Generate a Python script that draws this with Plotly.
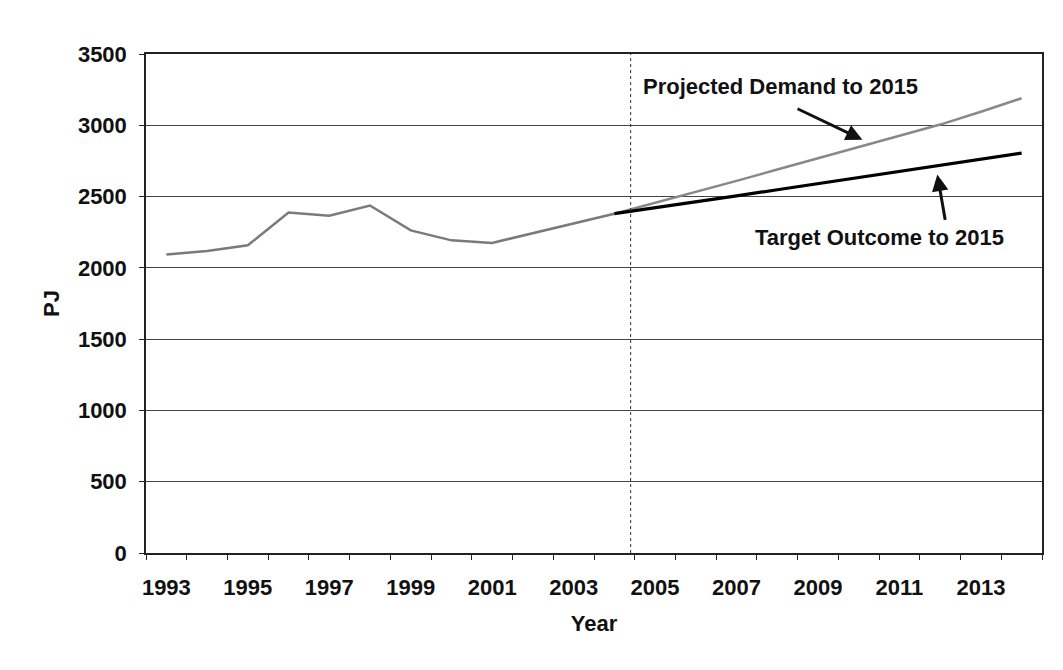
import plotly.graph_objects as go

# ---- data ----
years_hist = [1993, 1994, 1995, 1996, 1997, 1998, 1999, 2000, 2001, 2002, 2003, 2004]
demand_hist = [2093, 2118, 2158, 2388, 2365, 2437, 2263, 2193, 2175, 2244, 2314, 2380]

years_proj = [2004, 2005, 2006, 2007, 2008, 2009, 2010, 2011, 2012, 2013, 2014]
demand_proj = [2380, 2455, 2530, 2610, 2690, 2770, 2850, 2925, 3005, 3095, 3190]
target_proj = [2380, 2420, 2462, 2505, 2548, 2590, 2635, 2678, 2720, 2762, 2805]

xtick_vals = [1993, 1995, 1997, 1999, 2001, 2003, 2005, 2007, 2009, 2011, 2013]
xtick_text = [str(v) for v in xtick_vals]
ytick_vals = [0, 500, 1000, 1500, 2000, 2500, 3000, 3500]
divider_year = 2004.4

FONT = "Liberation Sans, Arial, sans-serif"

fig = go.Figure()
fig.add_trace(go.Scatter(x=years_hist, y=demand_hist, mode="lines",
                         line=dict(color="#7a7a7a", width=2.5), showlegend=False))
fig.add_trace(go.Scatter(x=years_proj, y=demand_proj, mode="lines",
                         line=dict(color="#888888", width=2.5), showlegend=False))
fig.add_trace(go.Scatter(x=years_proj, y=target_proj, mode="lines",
                         line=dict(color="#000000", width=3.2), showlegend=False))

fig.add_shape(type="line", xref="x", yref="paper", x0=divider_year, x1=divider_year,
              y0=0, y1=1, line=dict(color="#333333", width=1, dash="dot"))

fig.add_annotation(x=2008.07, y=3273, xref="x", yref="y", text="<b>Projected Demand to 2015</b>",
                   showarrow=False, font=dict(family=FONT, size=22, color="#111111"))
fig.add_annotation(x=2010.09, y=2899, ax=2008.46, ay=3121, xref="x", yref="y",
                   axref="x", ayref="y", text="", showarrow=True,
                   arrowhead=2, arrowsize=1.1, arrowwidth=3, arrowcolor="#111111")
fig.add_annotation(x=2010.5, y=2210, xref="x", yref="y", text="<b>Target Outcome to 2015</b>",
                   showarrow=False, font=dict(family=FONT, size=22, color="#111111"))
fig.add_annotation(x=2011.93, y=2654, ax=2012.13, ay=2326, xref="x", yref="y",
                   axref="x", ayref="y", text="", showarrow=True,
                   arrowhead=2, arrowsize=1.1, arrowwidth=3, arrowcolor="#111111")

fig.update_layout(
    width=1047, height=654,
    paper_bgcolor="white", plot_bgcolor="white",
    margin=dict(l=138, r=13, t=46, b=109, autoexpand=False),
    font=dict(family=FONT, size=22, color="#111111"),
    showlegend=False,
)
fig.update_xaxes(
    range=[1992.5, 2014.5], tickmode="array", tickvals=xtick_vals, ticktext=xtick_text,
    tickfont=dict(family=FONT, size=22, color="#111111", weight="bold"),
    ticks="", ticklabelstandoff=14,
    minor=dict(tick0=1992.5, dtick=1, ticks="outside", ticklen=5, tickcolor="#222222", showgrid=False),
    showgrid=False, zeroline=False, automargin=False,
    showline=True, linecolor="#222222", linewidth=1.5, mirror=True,
    title=dict(text="<b>Year</b>", font=dict(family=FONT, size=22), standoff=16),
)
fig.update_yaxes(
    range=[0, 3500], tickmode="array", tickvals=ytick_vals,
    tickfont=dict(family=FONT, size=22, color="#111111", weight="bold"),
    ticks="outside", ticklen=5, tickcolor="#222222", ticklabelstandoff=8,
    showgrid=True, gridcolor="#444444", gridwidth=1, zeroline=False, automargin=False,
    showline=True, linecolor="#222222", linewidth=1.5, mirror=True,
    title=dict(text="<b>PJ</b>", font=dict(family=FONT, size=22), standoff=12),
)

fig.write_html("out.html")
